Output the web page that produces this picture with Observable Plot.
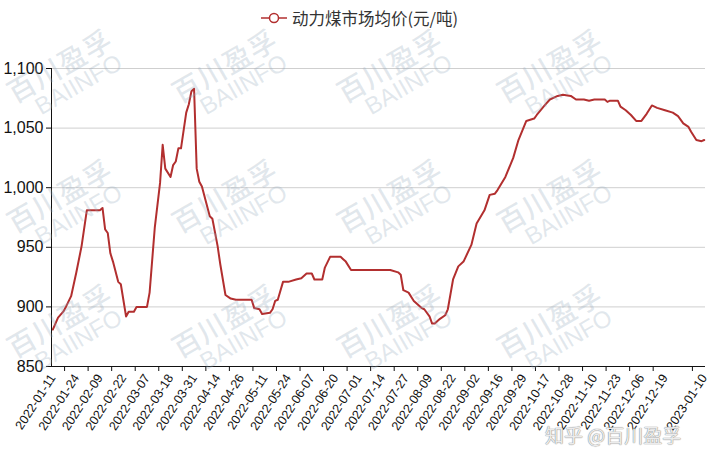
<!DOCTYPE html>
<html>
<head>
<meta charset="utf-8">
<script src="https://cdn.jsdelivr.net/npm/d3@7"></script>
<script src="https://cdn.jsdelivr.net/npm/@observablehq/plot@0.6"></script>
<style>
  html, body { margin: 0; padding: 0; background: #fff; }
  #wrap { position: relative; width: 712px; height: 456px; overflow: hidden; font-family: "Liberation Sans", Arial, sans-serif; }
  #legend { position: relative; height: 38px; }
  #legend .item { position: absolute; left: 261px; top: 8px; display: flex; align-items: center; }
  #legend span { font-family: "Noto Sans CJK SC", sans-serif; font-size: 16.5px; color: #333; margin-left: 5px; line-height: 20px; }
  .wm { position: absolute; transform: rotate(-30deg); transform-origin: center; text-align: center; color: rgba(150,170,190,0.28); pointer-events: none; white-space: nowrap; }
  .wm .cn { font-family: "Noto Sans CJK SC", sans-serif; font-size: 28px; font-weight: 500; line-height: 30px; letter-spacing: 1px; }
  .wm .en { font-family: "Liberation Sans", Arial, sans-serif; font-size: 24px; font-weight: 400; line-height: 24px; margin-left: 14px; }
  #zhihu { position: absolute; left: 545px; top: 421px; font-family: "Noto Sans CJK SC", sans-serif; font-size: 19px; color: rgba(255,255,255,0.85); text-shadow: 0 0 1px #888, 0 0 1px #888; white-space: nowrap; }
</style>
</head>
<body>
<div id="wrap">
  <div id="legend"><div class="item">
    <svg width="26" height="12"><line x1="0" y1="6" x2="26" y2="6" stroke="#b22f2f" stroke-width="1.5"/><circle cx="13" cy="6" r="4.5" fill="#fff" stroke="#b22f2f" stroke-width="1.5"/></svg>
    <span>动力煤市场均价(元/吨)</span>
  </div></div>
  <div id="chart"></div>
</div>
<script>
// trading-day index (0 = 2022-01-11) and price (元/吨)
const dayIdx = [0,2,4,5,7,9,11,13,18,19,20,21,22,23,25,26,28,29,31,32,34,36,37,39,41,42,43,45,46,47,48,49,51,52,53,54,55,56,57,60,61,63,64,66,68,70,76,77,79,80,83,84,85,86,88,90,93,95,97,99,100,103,104,106,110,111,112,114,129,132,133,134,136,138,141,142,144,145,146,148,150,151,153,155,157,160,162,165,167,169,170,173,176,178,181,184,185,188,190,193,195,198,200,203,205,207,211,212,213,216,217,219,221,223,225,227,229,231,234,237,239,241,243,244,246,248,249];
const price = [881,891,896,900,909,929,951,981,981,983,965,962,945,938,921,919,892,896,896,900,900,900,912,967,1004,1036,1016,1009,1019,1022,1033,1033,1063,1070,1081,1083,1016,1005,1001,976,974,951,936,910,907,906,906,899,898,894,895,898,905,906,921,921,923,924,928,928,923,923,933,942,942,940,938,931,931,929,927,914,912,905,899,898,892,886,886,890,893,898,923,934,938,952,970,981,994,995,998,1009,1025,1040,1056,1058,1061,1069,1074,1077,1078,1077,1074,1074,1073,1074,1074,1072,1073,1073,1068,1065,1061,1056,1056,1062,1069,1067,1065,1063,1060,1054,1051,1047,1040,1039,1040];

// x tick labels (category labels) and their trading-day index
const labelIdx = [0,9,18,27,36,45,54,63,72,81,90,99,108,117,126,135,144,153,162,171,180,189,198,207,216,225,234,249];
const labelText = ["2022-01-11","2022-01-24","2022-02-09","2022-02-22","2022-03-07","2022-03-18","2022-03-31","2022-04-14","2022-04-26","2022-05-11","2022-05-24","2022-06-07","2022-06-20","2022-07-01","2022-07-14","2022-07-27","2022-08-09","2022-08-22","2022-09-02","2022-09-16","2022-09-29","2022-10-17","2022-10-28","2022-11-10","2022-11-23","2022-12-06","2022-12-19","2023-01-10"];
// tick marks sit between labels
const tickMarkIdx = [4.5,13.5,22.5,31.5,40.5,49.5,58.5,67.5,76.5,85.5,94.5,103.5,112.5,121.5,130.5,139.5,148.5,157.5,166.5,175.5,184.5,193.5,202.5,211.5,220.5,229.5,244.5];
const yTicks = [850,900,950,1000,1050,1100];

const data = dayIdx.map((d, i) => ({i: d, v: price[i]}));
const labelMap = new Map(labelIdx.map((d, i) => [d, labelText[i]]));
const red = "#b22f2f";

const chart = Plot.plot({
  width: 712,
  height: 418,
  marginTop: 30,
  marginLeft: 51,
  marginRight: 7,
  marginBottom: 90,
  style: {fontFamily: "'Liberation Sans', Arial, sans-serif", color: "#111", background: "transparent", overflow: "visible"},
  x: {domain: [-0.5, 249.5]},
  y: {domain: [850, 1100]},
  marks: [
    Plot.ruleY(yTicks.filter(d => d > 850), {stroke: "#cfcfcf", strokeWidth: 1}),
    Plot.line(data, {x: "i", y: "v", stroke: red, strokeWidth: 2, strokeLinejoin: "round"}),
    Plot.ruleY([850], {stroke: "#111", strokeWidth: 1}),
    Plot.ruleX([-0.5], {stroke: "#111", strokeWidth: 1}),
    Plot.axisY({ticks: yTicks, tickFormat: d3.format(","), tickSize: 5, tickPadding: 3, fontSize: 16, label: null, stroke: "#111"}),
    Plot.axisX({ticks: tickMarkIdx, tickFormat: () => "", tickSize: 5, label: null, stroke: "#111"}),
    Plot.axisX({ticks: labelIdx, tickFormat: d => labelMap.get(d), tickRotate: -57, tickSize: 0, tickPadding: 9, fontSize: 12.5, label: null})
  ]
});
document.getElementById("chart").appendChild(chart);

// watermarks
const wrap = document.getElementById("wrap");
const wmX = [65, 230, 395, 555];
const wmY = [75, 205, 330];
for (const cy of wmY) for (const cx of wmX) {
  const d = document.createElement("div");
  d.className = "wm";
  d.innerHTML = '<div class="cn">百川盈孚</div><div class="en">BAIINFO</div>';
  d.style.left = (cx - 60) + "px";
  d.style.top = (cy - 27) + "px";
  d.style.width = "120px";
  wrap.appendChild(d);
}
const z = document.createElement("div");
z.id = "zhihu";
z.textContent = "知乎 @百川盈孚";
wrap.appendChild(z);
</script>
</body>
</html>
